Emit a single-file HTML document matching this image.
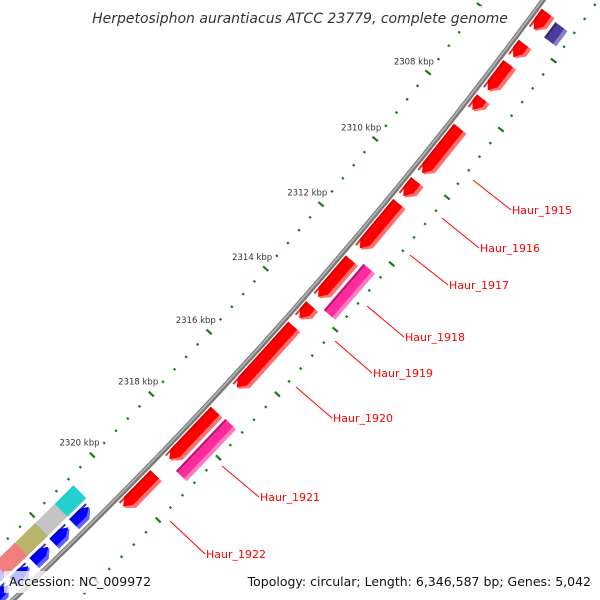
<!DOCTYPE html>
<html><head><meta charset="utf-8"><style>
html,body{margin:0;padding:0;background:#fff;width:600px;height:600px;overflow:hidden;}
svg{display:block;font-family:"DejaVu Sans","Liberation Sans",sans-serif;}
</style></head><body>
<svg id="map" width="600" height="600" viewBox="0 0 600 600" xmlns="http://www.w3.org/2000/svg">
<g id="ticks"></g>
<g id="backbone"></g>
<g id="genes"></g>
<g id="labels"></g>
<g>
<rect x="88" y="6" width="424" height="22" fill="#fff" opacity="0.8"/>
<text x="300" y="23" text-anchor="middle" font-size="14" font-style="italic" fill="#333">Herpetosiphon aurantiacus ATCC 23779, complete genome</text>
</g>
<g>
<rect x="4" y="571" width="144" height="22" fill="#fff" opacity="0.75"/>
<text x="9" y="586" font-size="12.5" fill="#111">Accession: NC_009972</text>
<rect x="256" y="571" width="340" height="22" fill="#fff" opacity="0.75"/>
<text x="591" y="586" text-anchor="end" font-size="12.5" fill="#111">Topology: circular; Length: 6,346,587 bp; Genes: 5,042</text>
</g>
</svg>
<script>
// data (kbp)
const majorTicks = [2308,2310,2312,2314,2316,2318,2320];
const tickLabels = ["2308 kbp","2310 kbp","2312 kbp","2314 kbp","2316 kbp","2318 kbp","2320 kbp"];
const redStarts = [2305.2,2306.1,2306.69,2307.7,2308.57,2310.16,2310.82,2312.54,2313.95,2314.58,2317.26,2319.3];
const redEnds   = [2305.7,2306.5,2307.47,2308.05,2309.93,2310.62,2312.2,2313.69,2314.35,2316.52,2318.81,2320.35];
const pinkStarts = [2312.42,2317.24];
const pinkEnds   = [2313.83,2318.9];
const purpleStarts = [2305.26];
const purpleEnds   = [2305.7];
const blueStarts = [2320.92,2321.6,2322.25,2322.9,2323.55];
const blueEnds   = [2321.45,2322.1,2322.75,2323.4,2324.0];
const blockStarts = [2320.82,2321.44,2322.08,2322.74,2323.43];
const blockEnds   = [2321.44,2322.08,2322.74,2323.43,2324.3];
const blockColors = ["#22d0d0","#c4c4c4","#b8b46a","#f08080","#c8c8ff"];

const NS="http://www.w3.org/2000/svg";
const CX=-3063, CY=-2653, R0=4477;
function ang(k){return (37.98+0.549*(k-2308))*Math.PI/180;}
function P(k,r){const a=ang(k);return [CX+r*Math.cos(a),CY+r*Math.sin(a)];}
function el(tag,attrs,parent){const e=document.createElementNS(NS,tag);for(const a in attrs)e.setAttribute(a,attrs[a]);parent.appendChild(e);return e;}
function pts(a){return a.map(p=>p[0].toFixed(1)+","+p[1].toFixed(1)).join(" ");}

// ticks
const tg=document.getElementById('ticks');
[4429,4521.5].forEach(r=>{
  for(let i=0;i<=65;i++){
    const k=2300+i*0.4;
    const major=(i%5===0);
    const h=major?3.5:1.2;
    const a=P(k,r-h),b=P(k,r+h);
    const ln=el('line',{x1:a[0],y1:a[1],x2:b[0],y2:b[1],stroke:'#1a7a1a','stroke-width':2.2},tg);
    
    
  }
});
majorTicks.forEach((k,i)=>{
  const p=P(k,4411);
  const t=el('text',{x:p[0],y:p[1]+3,'text-anchor':'middle','font-size':'8.5',fill:'#333'},tg);
  t.textContent=tickLabels[i];
  
  
});

// backbone
const bb=document.getElementById('backbone');
function arcPath(r){let d="";for(let k=2296;k<=2330;k+=0.5){const p=P(k,r);d+=(d?"L":"M")+p[0].toFixed(1)+","+p[1].toFixed(1);}return d;}
el('path',{d:arcPath(R0),fill:'none',stroke:'#777','stroke-width':5},bb);
el('path',{d:arcPath(R0-0.6),fill:'none',stroke:'#b0b0b0','stroke-width':1.8},bb);

// genes
const gg=document.getElementById('genes');
function shape(k1,k2,r1,r2,dir,ah){
  const rc=(r1+r2)/2;
  if(dir===0) return [P(k1,r1),P(k2,r1),P(k2,r2),P(k1,r2)];
  if(dir>0){const kb=Math.max(k1,k2-ah);return [P(k1,r1),P(kb,r1),P(k2,rc),P(kb,r2),P(k1,r2)];}
  const kb=Math.min(k2,k1+ah);return [P(k2,r1),P(kb,r1),P(k1,rc),P(kb,r2),P(k2,r2)];
}
function gene(k1,k2,r1,r2,dir,cMain,cLight,cDark,name){
  const g=el('g',{},gg);
  
  
  const ah=0.19;
  el('polygon',{points:pts(shape(k1,k2,r1,r2,dir,ah)),fill:cLight},g);
  el('polygon',{points:pts(shape(k1,k2,r1,r2-4,dir,ah)),fill:cMain},g);
  if(cDark) el('polygon',{points:pts(shape(k1,k2,r1,r1+2,0,ah)),fill:cDark,opacity:0.8},g);
}
redStarts.forEach((s,i)=>gene(s,redEnds[i],4481,4497,1,'#ff0000','#ff7070','#d00000','red-gene'));
pinkStarts.forEach((s,i)=>gene(s,pinkEnds[i],4500,4515,0,'#ff2a9c','#ff7ac0','#a0106a','pink-gene'));
purpleStarts.forEach((s,i)=>gene(s,purpleEnds[i],4500,4515,0,'#4a3f96','#8a80c8','#2a2060','purple-gene'));
blueStarts.forEach((s,i)=>gene(s,blueEnds[i],4458,4472,-1,'#0000ff','#6060ff','#0000a0','blue-gene'));
blockStarts.forEach((s,i)=>gene(s,blockEnds[i],4437,4455,0,blockColors[i],blockColors[i],null,'feature-block'));

// labels
const lg=document.getElementById('labels');
const labelText=["Haur_1915","Haur_1916","Haur_1917","Haur_1918","Haur_1919","Haur_1920","Haur_1921","Haur_1922"];
const lines=[[473,180,511,210],[442,218,479,248],[410,255,448,285],[367,306,404,337],[335,341,372,373],[296,387,332,418],[222,466,259,497],[170,521,205,554]];
labelText.forEach((t,i)=>{
  const L=lines[i];
  const ln=el('line',{x1:L[0],y1:L[1],x2:L[2],y2:L[3],stroke:'#ff0000','stroke-width':1},lg);
  
  
  const tx=el('text',{x:L[2]+1,y:L[3]+4,'font-size':'11',fill:'#ff0000'},lg);
  tx.textContent=t;
  
  
});
</script>
</body></html>
